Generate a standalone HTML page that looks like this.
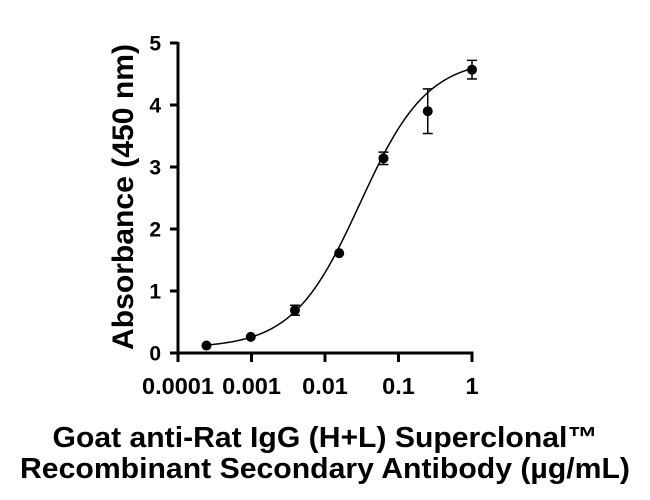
<!DOCTYPE html>
<html><head><meta charset="utf-8"><style>
html,body{margin:0;padding:0;background:#fff;}
svg{display:block;font-family:"Liberation Sans",sans-serif;font-weight:bold;}
</style></head><body>
<svg id="chart" width="650" height="500">
<g id="axes"></g><g id="marks"></g>
<text x="133" y="197" font-size="30" text-anchor="middle" textLength="306" lengthAdjust="spacingAndGlyphs" transform="rotate(-90 133 197)">Absorbance (450 nm)</text>
<text x="325" y="447" font-size="29" text-anchor="middle" textLength="545" lengthAdjust="spacingAndGlyphs">Goat anti-Rat IgG (H+L) Superclonal™</text>
<text x="325" y="478" font-size="29" text-anchor="middle" textLength="610" lengthAdjust="spacingAndGlyphs">Recombinant Secondary Antibody (µg/mL)</text>
</svg>
<script>
const concentrations=[0.000244,0.000977,0.0039,0.0156,0.0625,0.25,1];
const absorbance=[0.12,0.26,0.69,1.61,3.14,3.9,4.57];
const errors=[0.02,0.03,0.08,0.03,0.1,0.36,0.15];
const xTicks=[0.0001,0.001,0.01,0.1,1];
const xTickLabels=["0.0001","0.001","0.01","0.1","1"];
const yTicks=[0,1,2,3,4,5];
const fitParams=[0.08,4.75,0.03,0.95]; // bottom, top, ec50, hill
const NS="http://www.w3.org/2000/svg";
const X0=178,X1=472,Y0=353,Y1=43;
const xs=v=>X0+(Math.log10(v)+4)/4*(X1-X0);
const ys=v=>Y0-v/5*(Y0-Y1);
function mk(tag,attrs,parent){const e=document.createElementNS(NS,tag);for(const k in attrs)e.setAttribute(k,attrs[k]);parent.appendChild(e);return e;}
const ax=document.getElementById('axes'),mg=document.getElementById('marks');
let l=mk('line',{x1:X0,y1:Y0,x2:X0,y2:Y1-1,stroke:'#000','stroke-width':3},ax);


l=mk('line',{x1:X0-1.5,y1:Y0,x2:X1+1.5,y2:Y0,stroke:'#000','stroke-width':3},ax);


yTicks.forEach(v=>{
 const t=mk('line',{x1:X0-8,x2:X0,y1:ys(v),y2:ys(v),stroke:'#000','stroke-width':3},ax);
 
 
 const tx=mk('text',{x:X0-17,y:ys(v)+7.5,'font-size':21,'text-anchor':'end'},ax);
 tx.textContent=v;
 
 
});
xTicks.forEach((v,i)=>{
 const t=mk('line',{x1:xs(v),x2:xs(v),y1:Y0,y2:Y0+9,stroke:'#000','stroke-width':3},ax);
 
 
 const tx=mk('text',{x:xs(v),y:394,'font-size':23.5,'text-anchor':'middle'},ax);
 tx.textContent=xTickLabels[i];
 
 
});
const [b,tp,ec,h]=fitParams;
let d='';const lo=Math.log10(concentrations[0]),hi=Math.log10(concentrations[concentrations.length-1]);
for(let i=0;i<=200;i++){const lx=lo+(hi-lo)*i/200,c=Math.pow(10,lx);const y=b+(tp-b)/(1+Math.pow(ec/c,h));d+=(i?'L':'M')+xs(c).toFixed(2)+','+ys(y).toFixed(2);}
const fc=mk('path',{d:d,fill:'none',stroke:'#000','stroke-width':1.5},mg);


concentrations.forEach((c,i)=>{
 const x=xs(c),y=absorbance[i],e=errors[i];
 const g=mk('g',{},mg);
 
 
 if(e>0.05){
  mk('line',{x1:x,x2:x,y1:ys(y+e),y2:ys(y-e),stroke:'#000','stroke-width':1.5},g);
  mk('line',{x1:x-5,x2:x+5,y1:ys(y+e),y2:ys(y+e),stroke:'#000','stroke-width':1.5},g);
  mk('line',{x1:x-5,x2:x+5,y1:ys(y-e),y2:ys(y-e),stroke:'#000','stroke-width':1.5},g);
 }
 mk('circle',{cx:x,cy:ys(y),r:5,fill:'#000'},g);
});
</script>
</body></html>
